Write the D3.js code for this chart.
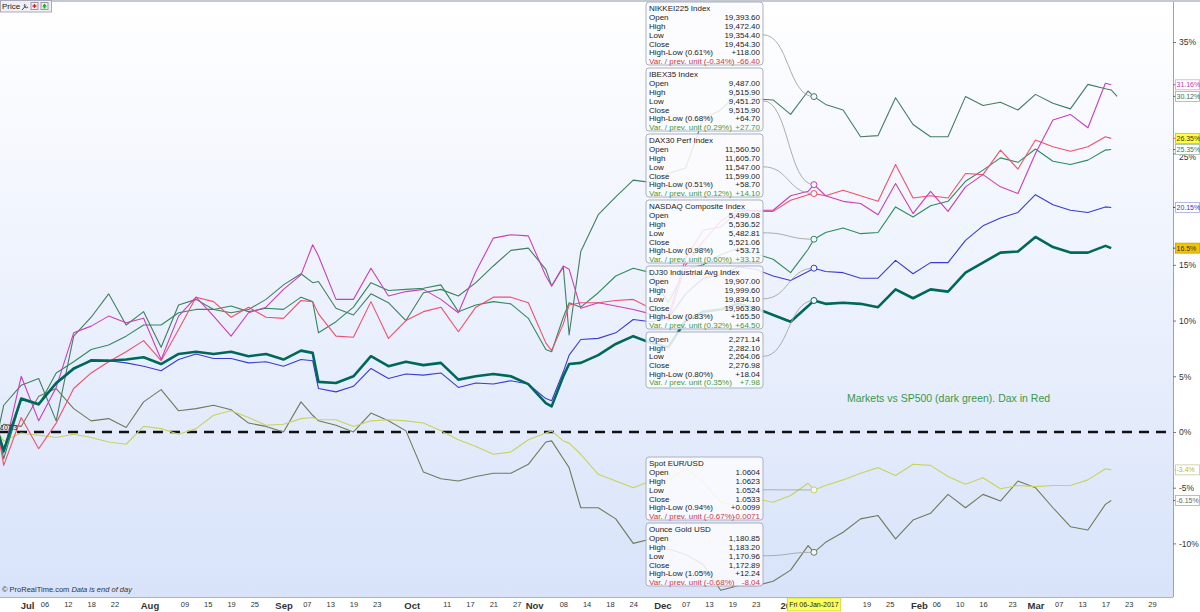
<!DOCTYPE html>
<html>
<head>
<meta charset="utf-8">
<script src="https://cdn.jsdelivr.net/npm/d3@7"></script>
<style>
body{margin:0;background:#fff}
svg{display:block;font-family:"Liberation Sans",Arial,sans-serif}
</style>
</head>
<body>
<svg id="chart" width="1200" height="612"></svg>
<script>
// sampled trading days (every ~3 sessions), % change vs 24-Jun-2016 close
const dates = [
	'2016-06-24','2016-06-27','2016-06-30','2016-07-05','2016-07-08','2016-07-13','2016-07-18','2016-07-21','2016-07-26','2016-07-29',
	'2016-08-03','2016-08-08','2016-08-11','2016-08-16','2016-08-19','2016-08-24','2016-08-29','2016-09-01','2016-09-06','2016-09-08','2016-09-09',
	'2016-09-14','2016-09-19','2016-09-22','2016-09-27','2016-09-30','2016-10-05','2016-10-10','2016-10-13','2016-10-18','2016-10-21',
	'2016-10-26','2016-10-31','2016-11-03','2016-11-04','2016-11-08','2016-11-09','2016-11-11','2016-11-16','2016-11-21','2016-11-24',
	'2016-11-29','2016-12-02','2016-12-07','2016-12-12','2016-12-15','2016-12-20','2016-12-23','2016-12-28','2017-01-02','2017-01-05',
	'2017-01-06','2017-01-10','2017-01-13','2017-01-18','2017-01-23','2017-01-26','2017-01-31','2017-02-03','2017-02-08','2017-02-13',
	'2017-02-16','2017-02-21','2017-02-24','2017-03-01','2017-03-06','2017-03-09','2017-03-14','2017-03-17','2017-03-20','2017-03-21'
]

const gold = [
	0, 0.7, 0.5, 3.2, 3.9, 2.1, 1.0, 1.2, 0.4, 2.7,
	3.8, 1.9, 2.1, 2.4, 2.0, 0.8, 0.5, 0.0, 2.7, 1.5, 1.0,
	0.6, 0.0, 1.7, 1.0, 0.1, -3.6, -4.2, -4.4, -4.0, -3.7,
	-3.7, -2.9, -0.9, -0.8, -2.4, -3.2, -6.8, -6.8, -7.8, -10.0,
	-9.6, -10.5, -11.0, -11.9, -14.2, -13.8, -13.8, -13.4, -12.4, -10.2,
	-10.8, -9.9, -9.0, -7.8, -7.5, -9.6, -7.9, -7.3, -5.6, -6.8,
	-5.6, -6.2, -4.4, -5.0, -6.8, -8.5, -8.8, -6.5, -6.15, null
]
const eurusd = [
	0, -0.8, -0.1, -0.3, -0.5, -0.2, -0.5, -0.9, -1.1, 0.5,
	0.3, -0.2, 0.3, 1.5, 1.9, 1.3, 0.6, 0.7, 1.2, 1.3, 1.1,
	1.1, 0.5, 1.0, 1.1, 1.0, 0.8, 0.1, -0.7, -1.3, -2.0,
	-1.8, -0.7, -0.1, 0.1, -0.8, -1.0, -2.0, -3.8, -4.4, -5.0,
	-4.4, -4.3, -3.3, -4.5, -6.3, -6.6, -6.0, -6.3, -5.7, -4.6,
	-5.2, -4.8, -4.3, -3.7, -3.2, -3.9, -2.9, -3.0, -4.0, -4.7,
	-4.1, -5.1, -4.8, -4.9, -4.8, -4.8, -4.3, -3.3, -3.4, null
]
const nikkei = [
	0, 2.4, 4.2, 4.8, 1.0, 8.6, 10.3, 12.4, 9.6, 10.8,
	7.6, 11.4, 11.9, 11.0, 10.7, 11.0, 11.9, 13.2, 14.2, 13.4, 13.5,
	11.1, 10.5, 12.4, 11.6, 10.0, 12.5, 12.8, 12.2, 13.4, 14.9,
	16.3, 16.5, 14.6, 13.1, 14.8, 8.7, 16.2, 19.5, 21.1, 22.6,
	22.4, 23.2, 23.7, 28.1, 28.9, 30.4, 29.9, 29.8, 28.5, 30.6,
	30.1, 29.4, 28.9, 26.5, 26.6, 30.0, 27.6, 26.5, 26.5, 30.1,
	29.3, 29.6, 28.9, 30.3, 29.5, 29.0, 31.2, 30.8, 30.7, 30.12
]
const nasdaq = [
	0, -2.4, 2.9, 2.4, 5.3, 6.3, 7.4, 7.8, 8.6, 9.6,
	9.6, 10.7, 11.0, 11.0, 11.3, 10.8, 11.1, 11.0, 12.1, 11.7, 8.9,
	9.9, 11.2, 13.4, 12.7, 12.8, 12.9, 13.2, 10.8, 11.4, 11.7,
	11.5, 10.2, 7.4, 7.2, 10.3, 11.6, 11.2, 12.5, 14.0, 14.7,
	14.3, 11.6, 14.6, 15.0, 15.9, 16.5, 16.0, 15.5, 14.3, 16.4,
	17.3, 17.9, 18.3, 17.8, 17.9, 20.2, 19.3, 20.3, 20.7, 22.5,
	23.5, 24.6, 24.2, 25.4, 24.3, 24.0, 24.4, 25.3, 25.35, null
]
const dax = [
	0, -3.0, 1.3, -1.5, 0.8, 3.9, 5.3, 6.3, 7.2, 8.2,
	6.4, 9.2, 12.1, 11.7, 10.3, 11.2, 10.3, 10.2, 11.8, 11.7, 10.6,
	8.6, 8.5, 11.7, 8.4, 10.0, 10.8, 11.2, 9.0, 11.2, 12.1,
	12.1, 11.6, 8.0, 7.3, 9.7, 11.4, 11.6, 11.6, 11.8, 11.9,
	11.1, 10.0, 15.0, 17.1, 18.9, 20.0, 19.8, 19.8, 20.8, 21.3,
	21.4, 21.2, 21.7, 21.2, 20.7, 24.0, 21.0, 21.2, 21.0, 23.2,
	23.1, 25.3, 23.6, 26.2, 25.6, 25.2, 25.6, 26.5, 26.35, null
]
const ibex = [
	0, -1.9, 5.0, 1.0, 4.0, 8.9, 9.5, 10.4, 9.8, 10.2,
	6.5, 10.4, 12.1, 10.4, 8.6, 10.7, 11.2, 12.8, 14.1, 16.8, 15.8,
	11.9, 11.9, 14.7, 12.2, 12.6, 12.8, 11.9, 10.7, 14.4, 17.4,
	17.7, 17.6, 14.0, 13.1, 14.9, 14.6, 11.1, 11.6, 11.3, 11.0,
	10.6, 10.3, 15.6, 18.1, 18.4, 19.8, 19.9, 19.9, 21.2, 21.6,
	22.2, 21.2, 20.7, 20.5, 19.5, 22.3, 19.6, 21.6, 19.8, 22.0,
	23.1, 22.0, 21.4, 25.0, 28.0, 28.5, 27.3, 31.3, 31.16, null
]
const dj30 = [
	0, -1.5, 3.0, 2.5, 4.3, 5.6, 6.5, 6.4, 6.2, 5.9,
	5.5, 6.5, 7.0, 6.6, 6.6, 6.2, 6.3, 5.9, 6.5, 6.4, 3.9,
	3.6, 4.1, 5.7, 4.8, 5.2, 5.1, 5.3, 4.0, 4.4, 4.3,
	4.6, 4.3, 3.0, 2.8, 5.4, 6.9, 8.3, 8.4, 8.9, 10.1,
	9.9, 10.2, 12.4, 13.8, 14.1, 14.8, 14.6, 14.0, 13.6, 14.4,
	14.7, 14.4, 14.3, 13.8, 13.8, 15.4, 14.2, 15.2, 15.2, 17.2,
	18.5, 19.2, 19.7, 21.3, 20.4, 19.9, 19.7, 20.2, 20.15, null
]
const sp500 = [
	0, -1.7, 3.0, 2.5, 4.4, 5.7, 6.4, 6.4, 6.5, 6.7,
	6.1, 7.0, 7.2, 7.0, 7.2, 6.8, 7.0, 6.5, 7.3, 7.1, 4.5,
	4.4, 5.0, 6.8, 5.9, 6.3, 6.0, 6.2, 4.7, 5.0, 5.2,
	5.0, 4.3, 2.6, 2.3, 5.0, 6.1, 6.2, 6.9, 7.9, 8.6,
	8.0, 7.6, 10.0, 10.8, 11.0, 11.5, 11.1, 10.5, 9.9, 11.3,
	11.8, 11.5, 11.6, 11.5, 11.2, 12.8, 12.0, 12.8, 12.6, 14.3,
	15.2, 16.1, 16.2, 17.5, 16.6, 16.1, 16.1, 16.7, 16.5, null
]

// 30% and 20% sit under the end labels, as in the original
const yTicks = [35, 25, 15, 10, 5, 0, -5, -10]
const xTickDates = [
	'2016-07-01','2016-07-06','2016-07-12','2016-07-18','2016-07-22','2016-08-01','2016-08-09','2016-08-15','2016-08-19','2016-08-25',
	'2016-09-01','2016-09-07','2016-09-13','2016-09-19','2016-09-23','2016-10-03','2016-10-11','2016-10-17','2016-10-21','2016-10-27',
	'2016-11-01','2016-11-08','2016-11-14','2016-11-18','2016-11-24','2016-12-01','2016-12-07','2016-12-13','2016-12-19','2016-12-23',
	'2017-01-02','2017-01-19','2017-01-25','2017-02-01','2017-02-06','2017-02-10','2017-02-16','2017-02-23','2017-03-01','2017-03-07',
	'2017-03-13','2017-03-17','2017-03-23','2017-03-29'
]
const xTickLabels = [
	'Jul','06','12','18','22','Aug','09','15','19','25',
	'Sep','07','13','19','23','Oct','11','17','21','27',
	'Nov','08','14','18','24','Dec','07','13','19','23',
	'2017','19','25','Feb','06','10','16','23','Mar','07',
	'13','17','23','29'
]

// tooltip contents for 06-Jan-2017
const tipDate = '2017-01-06'
const tipNames = ['NIKKEI225 Index','IBEX35 Index','DAX30 Perf Index','NASDAQ Composite Index','DJ30 Industrial Avg Index','','Spot EUR/USD','Ounce Gold USD']
const tipOpen = ['19,393.60','9,487.00','11,560.50','5,499.08','19,907.00','2,271.14','1.0604','1,180.85']
const tipHigh = ['19,472.40','9,515.90','11,605.70','5,536.52','19,999.60','2,282.10','1.0623','1,183.20']
const tipLow = ['19,354.40','9,451.20','11,547.00','5,482.81','19,834.10','2,264.06','1.0524','1,170.96']
const tipClose = ['19,454.30','9,515.90','11,599.00','5,521.06','19,963.80','2,276.98','1.0533','1,172.89']
const tipRangePct = ['0.61%','0.68%','0.51%','0.98%','0.83%','0.80%','0.94%','1.05%']
const tipRange = ['+118.00','+64.70','+58.70','+53.71','+165.50','+18.04','+0.0099','+12.24']
const tipVarPct = ['-0.34%','0.29%','0.12%','0.60%','0.32%','0.35%','-0.67%','-0.68%']
const tipVar = ['-66.40','+27.70','+14.10','+33.12','+64.50','+7.98','-0.0071','-8.04']

// series styles, in tooltip order
const series = [
	{name:'nikkei', vals:nikkei, col:'#437d62', w:1.1, lab:{txt:'#2f6e5e', fill:'#fff', stroke:'#9fb0a8'}},
	{name:'ibex', vals:ibex, col:'#cc3db8', w:1.1, lab:{txt:'#c437b0', fill:'#fff', stroke:'#d6a6d0'}},
	{name:'dax', vals:dax, col:'#f0506c', w:1.1, lab:{txt:'#333', fill:'#ffff3c', stroke:'#c8c800'}},
	{name:'nasdaq', vals:nasdaq, col:'#2f8a5e', w:1.1, lab:{txt:'#2d8068', fill:'#fff', stroke:'#9fb8b0'}},
	{name:'dj30', vals:dj30, col:'#3b3bcf', w:1.1, lab:{txt:'#3535c8', fill:'#fff', stroke:'#a8a8d8'}},
	{name:'sp500', vals:sp500, col:'#00675b', w:2.6, lab:{txt:'#333', fill:'#f3c300', stroke:'#c89c00'}},
	{name:'eurusd', vals:eurusd, col:'#c9d25e', w:1.1, lab:{txt:'#b3bb3a', fill:'#fff', stroke:'#c8c8a0'}},
	{name:'gold', vals:gold, col:'#6f7a5a', w:1.1, lab:{txt:'#5d6a5a', fill:'#fff', stroke:'#a8b0a8'}}
]
const drawOrder = ['gold','eurusd','nikkei','nasdaq','dax','ibex','dj30','sp500']
const tipTop = [2, 68, 134, 200, 266, 332, 457, 523]

const W = 1200, H = 612
const plotR = 1173, plotT = 2, plotB = 597

const parse = d3.timeParse('%Y-%m-%d')
const sessions = d3.timeDay.range(new Date(2016,5,24), new Date(2017,3,15)).filter(d => d.getDay() % 6 != 0)
const sessionIdx = s => {
	const t = parse(s).getTime()
	return sessions.findIndex(d => d.getTime() == t)
}
const idx = dates.map(sessionIdx)

const x = d3.scaleLinear().domain([0, 201.6]).range([-2.1, plotR])
const y = d3.scaleLinear().domain([-14.81, 38.77]).range([plotB, 0])

const svg = d3.select('#chart')
const defs = svg.append('defs')
const grad = defs.append('linearGradient').attr('id','bg').attr('x1',0).attr('x2',0).attr('y1',0).attr('y2',1)
grad.append('stop').attr('offset','0%').attr('stop-color','#ffffff')
grad.append('stop').attr('offset','100%').attr('stop-color','#d8e3fa')
defs.append('clipPath').attr('id','plotclip')
	.append('rect').attr('x',0).attr('y',plotT).attr('width',plotR).attr('height',plotB - plotT)

svg.append('rect').attr('width',W).attr('height',H).attr('fill','#fff')
svg.append('rect').attr('x',0).attr('y',plotT).attr('width',plotR).attr('height',plotB - plotT).attr('fill','url(#bg)')
svg.append('line').attr('x1',0).attr('x2',W).attr('y1',1).attr('y2',1).attr('stroke','#c4c8d0').attr('stroke-width',2)
svg.append('line').attr('x1',0).attr('x2',plotR).attr('y1',plotB + 0.5).attr('y2',plotB + 0.5).attr('stroke','#a9b3c6')

// zero line
svg.append('line')
	.attr('x1',0).attr('x2',plotR).attr('y1',y(0)).attr('y2',y(0))
	.attr('stroke','#111').attr('stroke-width',2.4).attr('stroke-dasharray','10,7')

// series lines
const lines = svg.append('g').attr('clip-path','url(#plotclip)')
drawOrder.forEach(n => {
	const s = series.find(d => d.name == n)
	const line = d3.line()
		.defined(v => v != null)
		.x((v,i) => x(idx[i]))
		.y(v => y(v))
	lines.append('path')
		.attr('d', line(s.vals))
		.attr('fill','none')
		.attr('stroke', s.col)
		.attr('stroke-width', s.w)
		.attr('stroke-linejoin','round')
})

// tooltips
const tipIdx = dates.indexOf(tipDate)
const tx = x(sessionIdx(tipDate))
const boxL = 646, boxR = 763
const tips = svg.append('g').attr('font-size','8px')
series.forEach((s,i) => {
	const top = tipTop[i]
	const hasTitle = tipNames[i] != ''
	const rowY = r => hasTitle ? top + 15 + r * 8.9 : top + 7 + r * 8.7
	const h = hasTitle ? 63 : 56
	const g = tips.append('g')
	g.append('rect').attr('x',boxL).attr('y',top).attr('width',boxR - boxL).attr('height',h).attr('rx',3)
		.attr('fill','#fbfcfe').attr('fill-opacity',0.86).attr('stroke','#a9b1c2')
	if(hasTitle){
		g.append('text').attr('x',boxL + 3).attr('y',top + 6.6).attr('dy','0.35em').attr('fill','#222').text(tipNames[i])
	}
	const up = !tipVar[i].startsWith('-')
	const rows = [
		['Open', tipOpen[i]],
		['High', tipHigh[i]],
		['Low', tipLow[i]],
		['Close', tipClose[i]],
		[`High-Low (${tipRangePct[i]})`, tipRange[i]],
		[`Var. / prev. unit (${tipVarPct[i]})`, tipVar[i]]
	]
	rows.forEach((r,j) => {
		const c = j == 5 ? (up ? '#3d9a3d' : '#c8384c') : '#222'
		g.append('text').attr('x',boxL + 3).attr('y',rowY(j)).attr('dy','0.35em').attr('fill',c).text(r[0])
		g.append('text').attr('x',boxR - 3).attr('y',rowY(j)).attr('dy','0.35em').attr('fill',c).attr('text-anchor','end').text(r[1])
	})
	// leader to the point
	const py = y(s.vals[tipIdx])
	const ly = rowY(2)
	svg.append('path')
		.attr('d', `M${boxR},${ly} C${boxR + 26},${ly} ${tx - 26},${py} ${tx},${py}`)
		.attr('fill','none').attr('stroke','#a4a4a4').attr('stroke-width',0.9)
	svg.append('circle').attr('cx',tx).attr('cy',py).attr('r',3)
		.attr('fill','#f4f7fc').attr('stroke',s.col).attr('stroke-width',1)
})

// right axis
const yAxis = svg.append('g').attr('transform',`translate(${plotR},0)`)
	.call(d3.axisRight(y).tickValues(yTicks).tickFormat(d => d + '%').tickSize(3).tickPadding(3))
yAxis.select('.domain').attr('stroke','#9aa2b2').attr('d',`M0.5,${plotT}V${plotB}`)
yAxis.selectAll('.tick line').attr('stroke','#777')
yAxis.selectAll('text').attr('font-size','8.5px').attr('fill','#333').attr('font-family','"Liberation Sans",Arial,sans-serif')
yAxis.selectAll('.tick').filter(d => d == 25).select('text').attr('dy','0.75em')

// end-of-series labels
series.forEach(s => {
	const last = s.vals.filter(v => v != null).pop()
	const ly = y(last)
	svg.append('line').attr('x1',plotR).attr('x2',plotR + 3).attr('y1',ly).attr('y2',ly).attr('stroke',s.col)
	svg.append('rect').attr('x',plotR + 2.5).attr('y',ly - 5).attr('width',W - plotR - 3).attr('height',10)
		.attr('fill',s.lab.fill).attr('stroke',s.lab.stroke).attr('stroke-width',0.8)
	svg.append('text').attr('x',plotR + 3.5).attr('y',ly).attr('dy','0.35em')
		.attr('font-size','7px').attr('fill',s.lab.txt).text(last + '%')
})

// bottom axis
const xAxis = svg.append('g').attr('transform',`translate(0,${plotB})`)
	.call(d3.axisBottom(x).tickValues(xTickDates.map(sessionIdx)).tickFormat((d,i) => xTickLabels[i]).tickSize(0).tickPadding(5))
xAxis.select('.domain').remove()
xAxis.selectAll('text')
	.attr('font-family','"Liberation Sans",Arial,sans-serif')
	.attr('fill','#333')
	.attr('font-size',(d,i) => /^[A-Z]|2017/.test(xTickLabels[i]) ? '9.5px' : '7.5px')
	.attr('font-weight',(d,i) => /^[A-Z]|2017/.test(xTickLabels[i]) ? 'bold' : 'normal')

// crosshair date tag
const tag = svg.append('g')
const tagText = tag.append('text').attr('x',tx).attr('y',605).attr('dy','0.35em').attr('text-anchor','middle')
	.attr('font-size','7px').attr('fill','#222').text('Fri 06-Jan-2017')
const bb = tagText.node().getBBox()
tag.insert('rect','text').attr('x',bb.x - 2).attr('y',598).attr('width',bb.width + 4).attr('height',13)
	.attr('fill','#fbff5a').attr('stroke','#c8c83c').attr('stroke-width',0.7)

// annotations
svg.append('text').attr('x',847).attr('y',402).attr('font-size','10.5px').attr('fill','#3a9846')
	.text('Markets vs SP500 (dark green). Dax in Red')
svg.append('text').attr('x',0).attr('y',430).attr('font-size','7px').attr('fill','#222').text('107.3')
const credit = svg.append('text').attr('x',2).attr('y',592).attr('font-size','7.5px').attr('fill','#333')
credit.append('tspan').text('\u00a9 ProRealTime.com ')
credit.append('tspan').attr('font-style','italic').text('Data is end of day')

// header
const hdr = svg.append('g')
hdr.append('rect').attr('x',0.5).attr('y',0.5).attr('width',51).attr('height',11.5).attr('fill','#eef0f4').attr('stroke','#aab')
hdr.append('text').attr('x',2).attr('y',9).attr('font-size','8px').attr('fill','#222').text('Price')
hdr.append('path').attr('d','M22,10 L26,5.5 M25,4 a2,2 0 1 0 3,3').attr('stroke','#444').attr('fill','none').attr('stroke-width',1)
hdr.append('rect').attr('x',31).attr('y',2.5).attr('width',7).attr('height',7).attr('fill','#f4f4f8').attr('stroke','#99a')
hdr.append('path').attr('d','M32.5,6 h4 M34.5,4 v4').attr('stroke','#d22').attr('stroke-width',1.4)
hdr.append('rect').attr('x',41).attr('y',2.5).attr('width',7).attr('height',7).attr('fill','#f4f4f8').attr('stroke','#99a')
hdr.append('path').attr('d','M44.5,3.5 l2.5,3 h-1.5 v2 h-2 v-2 h-1.5 z').attr('fill','#2a2')
</script>
</body>
</html>
